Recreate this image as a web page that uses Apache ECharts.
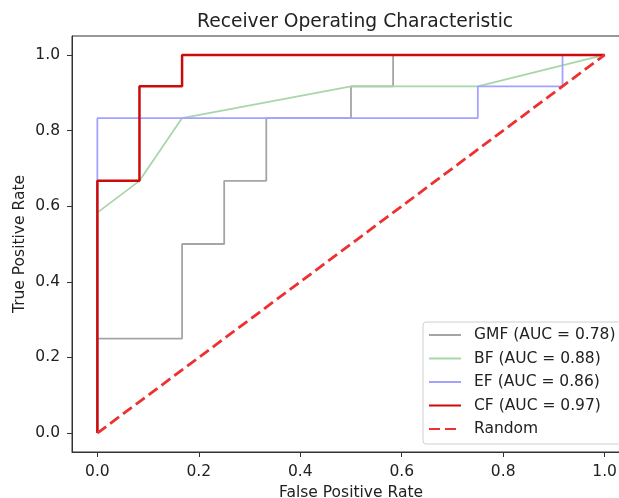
<!DOCTYPE html>
<html>
<head>
<meta charset="utf-8">
<script src="https://cdn.jsdelivr.net/npm/echarts@6/dist/echarts.min.js"></script>
<style>
html,body{margin:0;padding:0;background:#fff;overflow:hidden;}
#chart{width:630px;height:498px;}
</style>
</head>
<body>
<div id="chart"></div>
<script type="text/javascript">
// ROC 曲线数据 (FPR, TPR)
var gmfX = [0, 0, 0.167, 0.167, 0.25, 0.25, 0.333, 0.333, 0.5, 0.5, 0.583, 0.583, 1];
var gmfY = [0, 0.25, 0.25, 0.5, 0.5, 0.667, 0.667, 0.833, 0.833, 0.917, 0.917, 1, 1];

var bfX = [0, 0, 0.083, 0.167, 0.5, 0.75, 1];
var bfY = [0, 0.583, 0.667, 0.833, 0.917, 0.917, 1];

var efX = [0, 0, 0.75, 0.75, 0.917, 0.917, 1];
var efY = [0, 0.833, 0.833, 0.917, 0.917, 1, 1];

var cfX = [0, 0, 0.083, 0.083, 0.167, 0.167, 1];
var cfY = [0, 0.667, 0.667, 0.917, 0.917, 1, 1];

var randX = [0, 1];
var randY = [0, 1];

var seriesNames = ['GMF (AUC = 0.78)', 'BF (AUC = 0.88)', 'EF (AUC = 0.86)', 'CF (AUC = 0.97)', 'Random'];
var tickValues = [0, 0.2, 0.4, 0.6, 0.8, 1.0];

function pairs(xs, ys){
	var out = [];
	for(var i=0; i<xs.length; i++){
		out.push([xs[i], ys[i]]);
	}
	return out;
}

var font = 'DejaVu Sans';
var myChart = echarts.init(document.getElementById('chart'));
var option = {
	animation: false,
	title: {
		text: 'Receiver Operating Characteristic',
		left: 192,
		top: 8,
		textStyle: { fontFamily: font, fontSize: 18.7, fontWeight: 'normal', color: '#222' }
	},
	grid: {
		left: 72, top: 36, right: 0, bottom: 46,
		outerBoundsMode: 'none',
		show: true, borderColor: '#333', borderWidth: 1
	},
	legend: {
		orient: 'vertical',
		left: 423, top: 322,
		padding: [5, 6, 7, 5],
		itemWidth: 32, itemHeight: 14, itemGap: 7.5,
		backgroundColor: '#fff',
		borderColor: '#d0d0d0', borderWidth: 1, borderRadius: 3,
		itemStyle: { opacity: 0 },
		textStyle: { fontFamily: font, fontSize: 15.5, lineHeight: 16, color: '#222', padding: [0, 0, 0, 8] },
		data: seriesNames
	},
	xAxis: {
		type: 'value', min: -0.05, max: 1.05,
		name: 'False Positive Rate', nameLocation: 'middle', nameGap: 20,
		nameTextStyle: { fontFamily: font, fontSize: 15.5, color: '#222' },
		axisLine: { onZero: false, lineStyle: { color: '#333' } },
		axisTick: { show: true, length: 5, customValues: tickValues, lineStyle: { color: '#333' } },
		axisLabel: { customValues: tickValues, margin: 12, fontFamily: font, fontSize: 15.5, color: '#222',
			formatter: function(v){ return v.toFixed(1); } },
		splitLine: { show: false }
	},
	yAxis: {
		type: 'value', min: -0.05, max: 1.05,
		name: 'True Positive Rate', nameLocation: 'middle', nameGap: 44,
		nameMoveOverlap: false,
		nameTextStyle: { fontFamily: font, fontSize: 15.5, color: '#222' },
		axisLine: { show: true, onZero: false, lineStyle: { color: '#333' } },
		axisTick: { show: true, length: 5, customValues: tickValues, lineStyle: { color: '#333' } },
		axisLabel: { customValues: tickValues, margin: 12, fontFamily: font, fontSize: 15.5, color: '#222',
			formatter: function(v){ return v.toFixed(1); } },
		splitLine: { show: false }
	},
	series: [
		{ name: seriesNames[0], type: 'line', symbol: 'none', data: pairs(gmfX, gmfY),
			lineStyle: { color: '#a5a5a5', width: 1.8 }, itemStyle: { color: '#a5a5a5' } },
		{ name: seriesNames[1], type: 'line', symbol: 'none', data: pairs(bfX, bfY),
			lineStyle: { color: '#a9d6a9', width: 1.8 }, itemStyle: { color: '#a9d6a9' } },
		{ name: seriesNames[2], type: 'line', symbol: 'none', data: pairs(efX, efY),
			lineStyle: { color: '#a3a3ff', width: 1.8 }, itemStyle: { color: '#a3a3ff' } },
		{ name: seriesNames[3], type: 'line', symbol: 'none', data: pairs(cfX, cfY),
			lineStyle: { color: '#cc0a0a', width: 2.5 }, itemStyle: { color: '#cc0a0a' } },
		{ name: seriesNames[4], type: 'line', symbol: 'none', data: pairs(randX, randY),
			lineStyle: { color: '#ee3030', width: 2.8, type: [11, 5] }, itemStyle: { color: '#ee3030' } }
	]
};
myChart.setOption(option);
</script>
</body>
</html>
